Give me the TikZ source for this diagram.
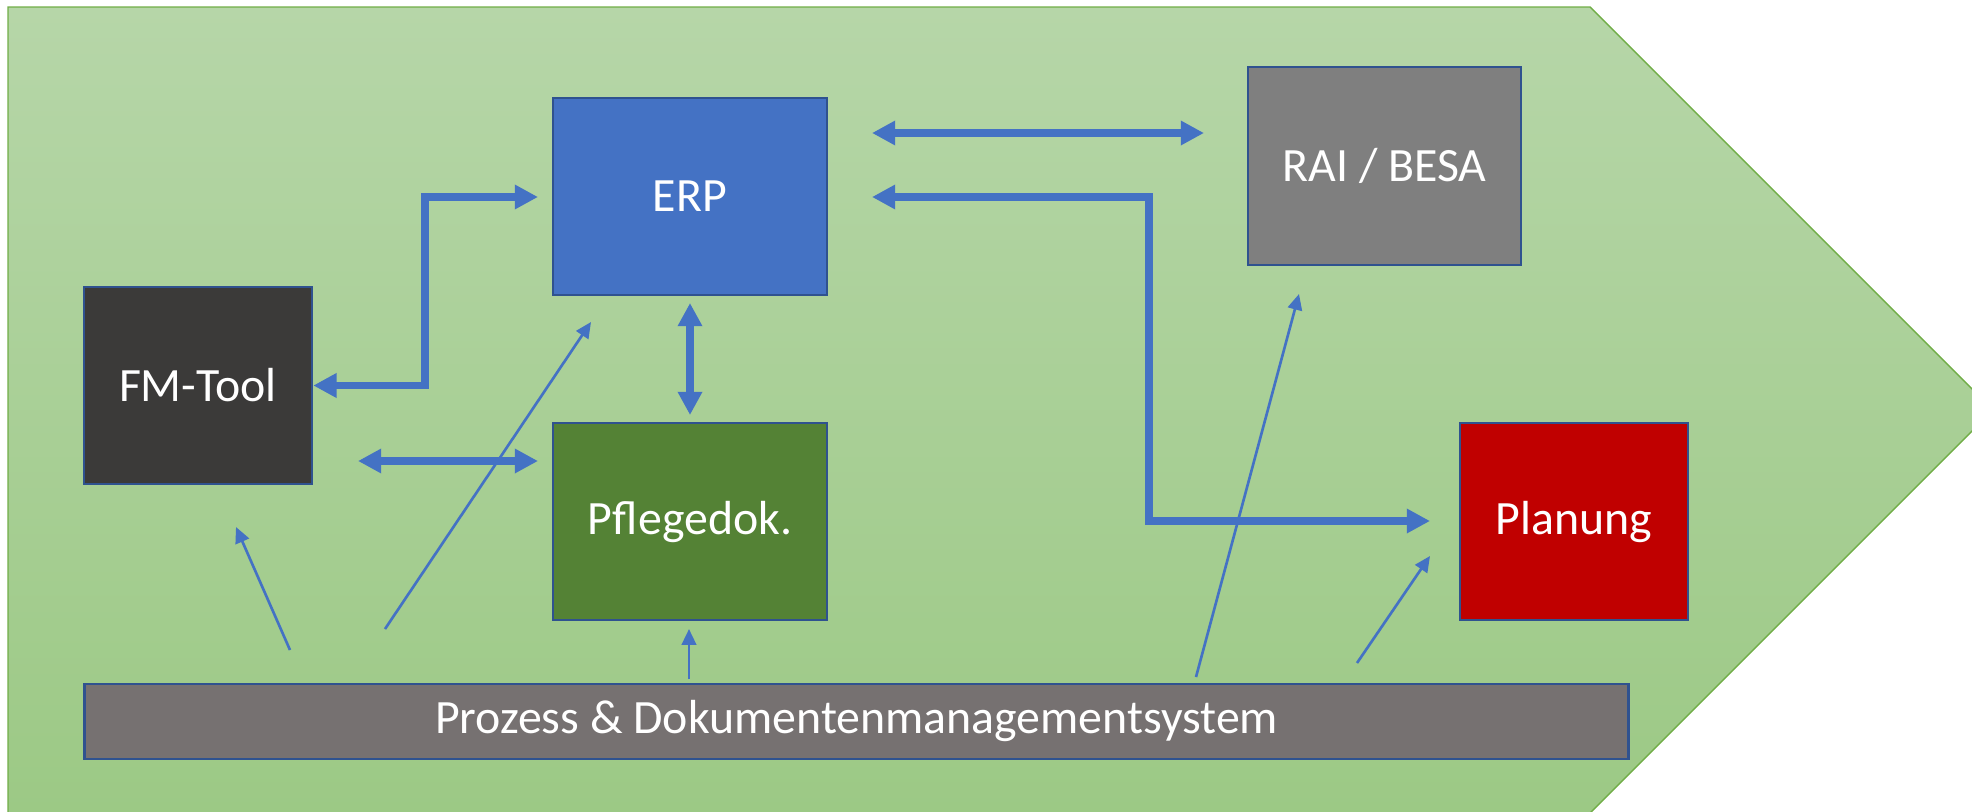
\documentclass[tikz,border=0pt]{standalone}
\usepackage{fontspec}
\setmainfont{Carlito}
\usetikzlibrary{arrows.meta}
\definecolor{bgtop}{HTML}{B6D6A8}
\definecolor{bgbot}{HTML}{9CC985}
\definecolor{bgedge}{HTML}{70AD47}
\definecolor{conblue}{HTML}{4472C4}
\definecolor{boxedge}{HTML}{2F528F}
\definecolor{erpfill}{HTML}{4472C4}
\definecolor{raifill}{HTML}{7F7F7F}
\definecolor{fmfill}{HTML}{3B3A39}
\definecolor{pflfill}{HTML}{548235}
\definecolor{planfill}{HTML}{C00000}
\definecolor{pdmfill}{HTML}{767171}
\tikzset{
  sysbox/.style={draw=boxedge, line width=0.7pt, text=white, font=\fontsize{13.6pt}{16pt}\selectfont, inner sep=0pt},
  biglink/.style={draw=conblue, line width=2.05pt, {Triangle[length=6.6pt,width=6.6pt]}-{Triangle[length=6.6pt,width=6.6pt]}},
  thinlink/.style={draw=conblue, line width=0.75pt, -{Triangle[length=4.5pt,width=4.1pt]}}
}
\begin{document}
\begin{tikzpicture}[x=0.01cm,y=-0.01cm]
\useasboundingbox (0,0) rectangle (1972,812);
\begin{scope}
\clip (0,0) rectangle (1972,812);
\shadedraw[top color=bgtop, bottom color=bgbot, draw=bgedge, line width=0.4pt]
  (8,7) -- (1590,7) -- (1993,410) -- (1590,813) -- (8,813) -- cycle;
\end{scope}

\node[sysbox, fill=erpfill, minimum width=2.74cm, minimum height=1.97cm] (erp) at (690,196.5) {ERP};
\node[sysbox, fill=raifill, minimum width=2.73cm, minimum height=1.98cm] (rai) at (1384.5,166) {RAI / BESA};
\node[sysbox, fill=fmfill, minimum width=2.28cm, minimum height=1.97cm] (fm) at (198,385.5) {FM-Tool};
\node[sysbox, fill=pflfill, minimum width=2.74cm, minimum height=1.97cm] (pfl) at (690,521.5) {Pflegedok.};
\node[sysbox, fill=planfill, minimum width=2.28cm, minimum height=1.97cm] (plan) at (1574,521.5) {Planung};
\node[sysbox, fill=pdmfill, minimum width=15.43cm, minimum height=0.75cm] (pdm) at (856.5,721.5) {Prozess \& Dokumentenmanagementsystem};

% thick connector end points
\coordinate (erpR1) at (872,133);
\coordinate (raiL) at (1204,133);
\coordinate (erpR2) at (872,197);
\coordinate (k2) at (1149,197);
\coordinate (planL) at (1430,521);
\coordinate (k1) at (425,197);
\coordinate (erpL) at (538,197);
\coordinate (erpB) at (690,303);
\coordinate (pflT) at (690,415);
\coordinate (fmR) at (358,461);
\coordinate (pflL) at (538,461);

\draw[biglink] (erpR1) -- (raiL);
\draw[biglink] (erpR2) -- (k2) |- (planL);
\draw[biglink] (fm.east) -| (k1) -- (erpL);
\draw[biglink] (erpB) -- (pflT);
\draw[biglink] (fmR) -- (pflL);

% thin connectors from the bar
\coordinate (s1) at (290,650);
\coordinate (t1) at (236,527);
\coordinate (s2) at (385,629);
\coordinate (t2) at (591,322);
\coordinate (s3) at (689,679);
\coordinate (t3) at (689,629);
\coordinate (s4) at (1196,677);
\coordinate (t4) at (1299,294);
\coordinate (s5) at (1357,663);
\coordinate (t5) at (1430,556);

\draw[thinlink] (s1) -- (t1);
\draw[thinlink] (s2) -- (t2);
\draw[thinlink] (s3) -- (t3);
\draw[thinlink] (s4) -- (t4);
\draw[thinlink] (s5) -- (t5);
\end{tikzpicture}
\end{document}
